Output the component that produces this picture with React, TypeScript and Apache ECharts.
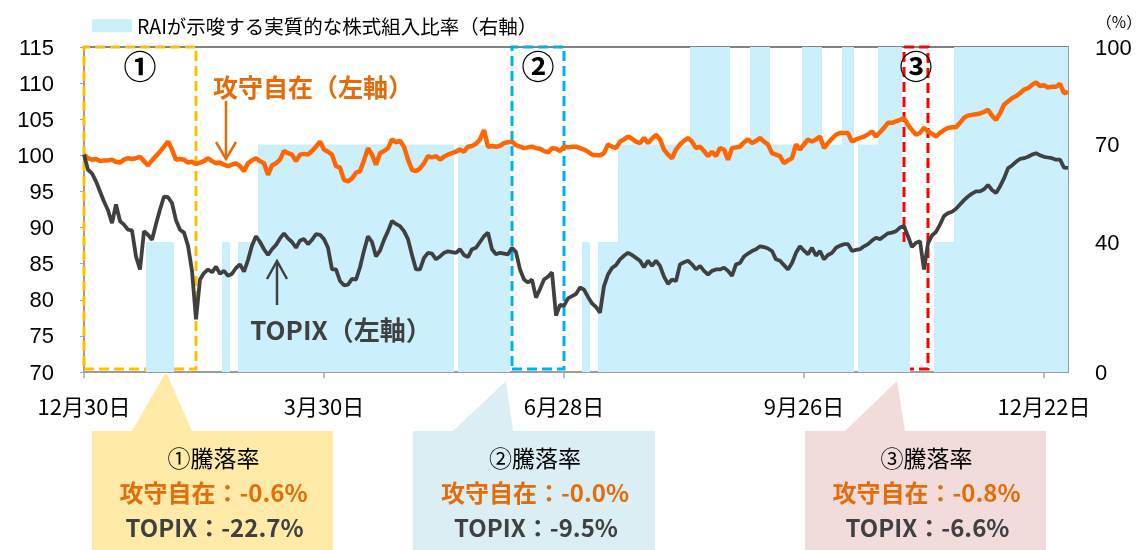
import React, { useEffect, useRef } from "react";
import * as echarts from "echarts";

// ---------- data ----------
const X_TICK_LABELS = ["12月30日", "3月30日", "6月28日", "9月26日", "12月22日"];
const LABEL_EVERY = 60;

const SERIES_KOSHU = "攻守自在";
const SERIES_TOPIX = "TOPIX";
const SERIES_RAI = "RAIが示唆する実質的な株式組入比率（右軸）";

const KOSHU = [
  100.1, 99.6, 99.4, 99.5, 99.2, 99.3, 99.3, 99.4, 99.1, 99.0,
  99.4, 99.6, 99.5, 99.6, 99.8, 99.2, 98.6, 99.3, 99.9, 100.5,
  101.2, 101.9, 100.8, 99.4, 99.5, 99.4, 99.0, 99.1, 98.8, 99.0,
  99.2, 99.6, 99.2, 98.9, 99.0, 98.7, 98.5, 98.7, 98.9, 98.5,
  97.8, 98.9, 99.3, 99.6, 99.2, 98.9, 97.3, 98.6, 98.9, 99.4,
  100.6, 100.3, 100.1, 99.2, 100.1, 100.2, 100.1, 100.6, 101.2, 101.9,
  100.8, 100.5, 100.1, 98.5, 98.3, 96.6, 96.4, 96.8, 97.6, 97.8,
  99.3, 101.0, 100.1, 98.7, 100.3, 100.6, 101.0, 102.2, 101.8, 102.0,
  101.2, 99.4, 98.0, 97.8, 98.2, 98.9, 99.9, 99.7, 99.9, 99.4,
  99.8, 100.1, 100.3, 100.5, 100.8, 100.5, 101.2, 101.3, 101.6, 102.2,
  103.5, 101.2, 101.3, 101.2, 101.3, 101.7, 101.8, 101.9, 101.4, 101.2,
  101.0, 101.1, 101.2, 101.0, 100.9, 100.6, 100.4, 101.0, 100.9, 100.6,
  101.2, 101.1, 101.2, 101.2, 101.0, 100.8, 100.5, 100.1, 100.0, 100.0,
  100.3, 101.5, 101.2, 101.0, 101.9, 102.2, 102.6, 102.3, 101.9, 101.7,
  102.4, 101.7, 102.3, 102.85, 102.2, 100.8, 100.1, 99.6, 100.8, 101.5,
  102.0, 102.4, 101.9, 101.0, 101.2, 100.6, 99.9, 100.5, 99.9, 101.0,
  100.8, 99.4, 101.0, 101.1, 101.2, 101.8, 102.2, 101.7, 102.0, 102.4,
  101.9, 101.5, 100.3, 100.1, 99.9, 98.9, 99.3, 99.6, 101.5, 100.8,
  101.5, 102.2, 101.9, 102.2, 102.6, 101.0, 101.7, 102.3, 102.85, 103.1,
  103.1, 103.1, 101.9, 102.2, 102.4, 102.6, 102.9, 103.3, 102.6, 103.2,
  103.8, 104.5, 104.5, 104.7, 104.9, 105.15, 104.2, 103.5, 102.85, 103.1,
  103.8, 103.3, 103.0, 102.6, 103.1, 103.5, 103.8, 103.9, 103.9, 104.5,
  105.2, 105.5, 105.6, 105.7, 105.8, 106.0, 106.3, 105.5, 104.9, 105.8,
  107.0, 107.45, 107.9, 108.2, 108.6, 109.1, 109.3, 109.75, 110.1, 109.6,
  109.7, 109.4, 109.5, 109.5, 109.9, 108.6, 108.8,
];

const TOPIX = [
  100.1, 98.0, 97.5, 96.4, 95.0, 93.6, 92.4, 90.6, 93.2, 90.9,
  90.4, 89.7, 89.6, 86.0, 84.2, 89.5, 89.0, 88.3, 90.5, 92.5,
  94.3, 94.2, 93.4, 91.0, 89.7, 89.3, 87.5, 84.0, 77.3, 82.8,
  83.7, 84.2, 83.8, 84.6, 83.6, 84.0, 83.3, 83.6, 84.4, 84.9,
  83.9, 85.5, 87.5, 88.8, 88.0, 87.0, 86.2, 87.0, 87.6, 88.5,
  89.2, 88.5, 88.0, 87.2, 88.2, 88.4, 87.7, 88.3, 89.1, 89.0,
  88.4, 87.2, 84.2, 84.2, 82.6, 82.0, 82.1, 82.9, 82.8, 84.5,
  86.8, 88.8, 88.0, 86.0, 86.8, 88.3, 89.5, 90.9, 90.5, 90.2,
  89.5, 88.4, 86.2, 84.2, 84.2, 85.8, 86.5, 86.4, 85.6, 86.0,
  86.5, 86.7, 86.6, 86.5, 87.0, 86.2, 85.9, 87.0, 87.2, 88.0,
  88.8, 89.3, 87.0, 86.3, 86.5, 86.4, 86.3, 87.2, 86.6, 84.2,
  82.8, 82.4, 82.8, 80.3, 81.5, 82.8, 83.2, 83.8, 77.8, 79.3,
  79.2, 80.2, 80.5, 80.8, 81.7, 81.4, 80.4, 79.5, 79.0, 78.2,
  81.9, 83.5, 84.4, 84.8, 85.6, 86.1, 86.5, 86.2, 85.8, 85.4,
  84.5, 85.4, 84.7, 85.4, 84.7, 83.2, 82.2, 82.8, 82.6, 84.9,
  85.2, 85.4, 84.9, 84.2, 84.7, 84.0, 83.5, 84.0, 84.2, 84.2,
  84.45, 84.0, 83.3, 84.9, 85.1, 86.0, 86.4, 86.75, 87.0, 87.4,
  87.3, 87.1, 86.75, 85.6, 85.4, 84.8, 84.2, 85.1, 86.5, 87.4,
  86.8, 86.3, 87.2, 86.1, 86.75, 85.6, 86.2, 86.5, 87.2, 87.5,
  87.7, 87.7, 86.75, 86.9, 87.0, 87.4, 87.7, 88.2, 88.6, 88.4,
  88.8, 89.2, 89.3, 89.5, 90.0, 90.2, 88.8, 87.3, 87.9, 88.1,
  84.2, 87.8, 88.9, 89.4, 90.4, 91.6, 92.0, 92.2, 92.6, 93.2,
  93.8, 94.3, 94.7, 95.0, 95.0, 95.3, 95.9, 95.2, 94.8, 95.7,
  96.8, 98.2, 98.6, 99.1, 99.5, 99.6, 99.8, 100.1, 100.3, 100.0,
  99.8, 99.7, 99.6, 99.4, 99.4, 98.3, 98.25,
];

const RAI = [
  0, 0, 0, 0, 0, 0, 0, 0, 0, 0,
  0, 0, 0, 0, 0, 0, 40, 40, 40, 40,
  40, 40, 40, 0, 0, 0, 0, 0, 0, 0,
  0, 0, 0, 0, 0, 40, 40, 0, 0, 40,
  40, 40, 40, 40, 70, 70, 70, 70, 70, 70,
  70, 70, 70, 70, 70, 70, 70, 70, 70, 70,
  70, 70, 70, 70, 70, 70, 70, 70, 70, 70,
  70, 70, 70, 70, 70, 70, 70, 70, 70, 70,
  70, 70, 70, 70, 70, 70, 70, 70, 70, 70,
  70, 70, 70, 0, 70, 70, 70, 70, 70, 70,
  70, 70, 70, 70, 70, 70, 70, 0, 0, 0,
  0, 0, 0, 0, 0, 0, 0, 0, 0, 0,
  0, 0, 0, 0, 0, 40, 40, 0, 0, 40,
  40, 40, 40, 40, 70, 70, 70, 70, 70, 70,
  70, 70, 70, 70, 70, 70, 70, 70, 70, 70,
  70, 70, 100, 100, 100, 100, 100, 100, 100, 100,
  100, 100, 70, 70, 70, 70, 70, 100, 100, 100,
  100, 100, 70, 70, 70, 70, 70, 70, 70, 70,
  100, 100, 100, 100, 100, 70, 70, 70, 70, 70,
  100, 100, 100, 0, 70, 70, 70, 70, 70, 100,
  100, 100, 100, 100, 100, 40, 40, 0, 0, 0,
  0, 0, 0, 40, 40, 40, 40, 40, 100, 100,
  100, 100, 100, 100, 100, 100, 100, 100, 100, 100,
  100, 100, 100, 100, 100, 100, 100, 100, 100, 100,
  100, 100, 100, 100, 100, 100, 100,
];

const LEFT_MIN = 70;
const LEFT_MAX = 115;
const LEFT_STEP = 5;
const RIGHT_TICKS = [0, 40, 70, 100];

// drawdown periods (category index ranges) and their labels
const PERIOD_NAMES = ["①", "②", "③"];
const PERIOD_START = [0, 107, 205];
const PERIOD_END = [28, 120, 211];
const KOSHU_CHANGE = ["-0.6%", "-0.0%", "-0.8%"];
const TOPIX_CHANGE = ["-22.7%", "-9.5%", "-6.6%"];

// ---------- styling ----------
const C_KOSHU_LINE = "#FF6600";
const C_KOSHU_TEXT = "#E46C0A";
const C_TOPIX = "#404040";
const C_RAI = "#CBEFFC";
const BOX_COLORS = ["#FFC000", "#00B0F0", "#FF0000"];
const CALLOUT_FILLS = ["#FFEAA8", "#DAEEF3", "#F2DCDB"];
const CJK = "'Noto Sans CJK JP', 'Noto Sans', sans-serif";
const NUM = "'Liberation Sans', Arial, sans-serif";

// callout geometry (pixels)
const CALLOUT_X0 = [92, 413, 805];
const CALLOUT_X1 = [333, 655, 1046];
const CALLOUT_APEX = [[166, 372], [506, 381], [897, 381]];
const CALLOUT_BASE = [[132, 192], [453, 513], [845, 905]];
const CALLOUT_TOP = 431;
const CALLOUT_LINE_Y = [457, 491, 526];

export default function App() {
  const ref = useRef<HTMLDivElement>(null);

  useEffect(() => {
    if (!ref.current) return;
    document.body.style.margin = "0";
    const chart = echarts.init(ref.current, null, { renderer: "svg" });
    const categories = KOSHU.map((_, i) => String(i));

    const txt = (x: number, y: number, text: string, fill: string, size: number, bold: boolean) => ({
      type: "text",
      x,
      y,
      z: 100,
      style: {
        text,
        fill,
        fontSize: size,
        fontWeight: bold ? "bold" : "normal",
        fontFamily: CJK,
        lineHeight: size + 2,
        align: "center",
        verticalAlign: "middle",
      },
    });

    const graphics: any[] = [];
    // series labels and arrows
    graphics.push(txt(313, 86, "攻守自在（左軸）", C_KOSHU_TEXT, 25, true));
    graphics.push({
      type: "line", z: 100,
      shape: { x1: 226, y1: 101, x2: 226, y2: 158 },
      style: { stroke: C_KOSHU_TEXT, lineWidth: 2.5 },
    });
    graphics.push({
      type: "polyline", z: 100,
      shape: { points: [[216, 142], [226, 159], [236, 142]] },
      style: { stroke: C_KOSHU_TEXT, lineWidth: 2.5, fill: null },
    });
    graphics.push(txt(341, 328, "TOPIX（左軸）", C_TOPIX, 26, true));
    graphics.push({
      type: "line", z: 100,
      shape: { x1: 277, y1: 305, x2: 277, y2: 262 },
      style: { stroke: C_TOPIX, lineWidth: 2.5 },
    });
    graphics.push({
      type: "polyline", z: 100,
      shape: { points: [[267, 279], [277, 261], [287, 279]] },
      style: { stroke: C_TOPIX, lineWidth: 2.5, fill: null },
    });
    // (%) unit
    graphics.push(txt(1119, 21, "（%）", "#000", 15.5, false));

    // callouts
    PERIOD_NAMES.forEach((nm, k) => {
      const x0 = CALLOUT_X0[k];
      const x1 = CALLOUT_X1[k];
      const [ax, ay] = CALLOUT_APEX[k];
      const [b0, b1] = CALLOUT_BASE[k];
      graphics.push({
        type: "polygon", z: 90,
        shape: { points: [[x0, CALLOUT_TOP], [b0, CALLOUT_TOP], [ax, ay], [b1, CALLOUT_TOP], [x1, CALLOUT_TOP], [x1, 550], [x0, 550]] },
        style: { fill: CALLOUT_FILLS[k], stroke: null },
      });
      const cx = (x0 + x1) / 2 + 1;
      graphics.push(txt(cx, CALLOUT_LINE_Y[0], `${nm}騰落率`, "#000", 23, false));
      graphics.push(txt(cx, CALLOUT_LINE_Y[1], `${SERIES_KOSHU}：${KOSHU_CHANGE[k]}`, C_KOSHU_TEXT, 24, true));
      graphics.push(txt(cx + 1, CALLOUT_LINE_Y[2], `${SERIES_TOPIX}：${TOPIX_CHANGE[k]}`, C_TOPIX, 24, true));
    });

    const markAreaData = PERIOD_NAMES.map((nm, k) => [
      {
        name: nm,
        xAxis: PERIOD_START[k],
        yAxis: 70.4,
        itemStyle: { color: "rgba(0,0,0,0)", borderColor: BOX_COLORS[k], borderWidth: 3, borderType: [10, 5] },
      },
      { xAxis: PERIOD_END[k], yAxis: LEFT_MAX },
    ]);

    const option: any = {
      animation: false,
      grid: { left: 84, right: 76, top: 47, bottom: 178, show: true, borderColor: "#595959", borderWidth: 1.5, backgroundColor: "transparent" },
      legend: {
        show: true,
        left: 87,
        top: 11,
        icon: "rect",
        itemWidth: 40,
        itemHeight: 13,
        itemGap: 4,
        selectedMode: false,
        data: [SERIES_RAI],
        textStyle: { fontSize: 19.5, color: "#000", fontFamily: CJK },
      },
      xAxis: {
        type: "category",
        data: categories,
        boundaryGap: false,
        axisLine: { lineStyle: { color: "#A6A6A6", width: 1.5 } },
        axisTick: { show: true, interval: LABEL_EVERY - 1, length: 6, lineStyle: { color: "#A6A6A6", width: 1.5 } },
        axisLabel: {
          interval: LABEL_EVERY - 1,
          formatter: (_v: string, i: number) => X_TICK_LABELS[Math.round(i / LABEL_EVERY)] ?? "",
          fontSize: 22,
          color: "#000",
          fontFamily: CJK,
          margin: 22,
        },
        splitLine: { show: false },
      },
      yAxis: [
        {
          type: "value",
          min: LEFT_MIN,
          max: LEFT_MAX,
          interval: LEFT_STEP,
          position: "left",
          axisLine: { show: true, lineStyle: { color: "#A6A6A6", width: 1.5 } },
          axisTick: { show: true, length: 4, lineStyle: { color: "#A6A6A6" } },
          axisLabel: { fontSize: 22, color: "#000", fontFamily: NUM, margin: 30 },
          splitLine: { show: false },
        },
        {
          type: "value",
          min: 0,
          max: 100,
          interval: 10,
          position: "right",
          axisLine: { show: true, lineStyle: { color: "#A6A6A6", width: 1.5 } },
          axisTick: { show: false },
          axisLabel: {
            fontSize: 22,
            color: "#000",
            fontFamily: NUM,
            margin: 27,
            formatter: (v: number) => (RIGHT_TICKS.includes(v) ? String(v) : ""),
          },
          splitLine: { show: false },
        },
      ],
      series: [
        {
          name: SERIES_RAI,
          type: "line",
          yAxisIndex: 1,
          step: "middle",
          data: RAI,
          color: C_RAI,
          symbol: "none",
          lineStyle: { width: 0, color: C_RAI },
          itemStyle: { color: C_RAI },
          areaStyle: { color: C_RAI, opacity: 1 },
          z: 1,
        },
        {
          name: SERIES_KOSHU,
          type: "line",
          data: KOSHU,
          symbol: "none",
          lineStyle: { width: 4.5, color: C_KOSHU_LINE },
          itemStyle: { color: C_KOSHU_LINE },
          z: 3,
        },
        {
          name: SERIES_TOPIX,
          type: "line",
          data: TOPIX,
          symbol: "none",
          lineStyle: { width: 3.8, color: C_TOPIX },
          itemStyle: { color: C_TOPIX },
          z: 3,
          markArea: {
            silent: true,
            label: {
              show: true,
              position: "insideTop",
              distance: 3,
              fontSize: 33,
              fontWeight: "bold",
              color: "#000",
              fontFamily: CJK,
            },
            data: markAreaData,
          },
        },
      ],
      graphic: graphics,
    };

    chart.setOption(option);
    return () => chart.dispose();
  }, []);

  return <div ref={ref} style={{ position: "fixed", left: 0, top: 0, width: 1144, height: 550 }} />;
}
